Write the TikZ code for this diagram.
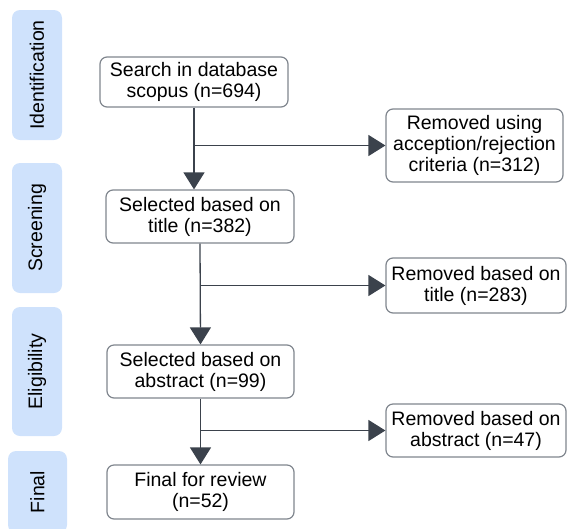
\documentclass[tikz,border=0pt]{standalone}
\usepackage{fontspec}
\setmainfont{Liberation Sans}
\usetikzlibrary{arrows.meta}
\definecolor{stageblue}{HTML}{CFE2FC}
\definecolor{linegray}{HTML}{3B424C}
\definecolor{boxgray}{HTML}{80868E}
\begin{document}
\begin{tikzpicture}[x=1pt, y=-1pt, font=\fontsize{19.5}{21}\selectfont,
	stagebox/.style={fill=stageblue, rounded corners=8pt, rotate=90, inner sep=0pt},
	flowbox/.style={draw=boxgray, line width=1.2pt, fill=white, rounded corners=7pt, align=center, inner sep=0pt},
	flowline/.style={draw=linegray, line width=1.3pt, -{Triangle[length=17pt, width=21pt]}}]
	\useasboundingbox (0,0) rectangle (567,528);
	%stages
	\foreach \name/\x/\y/\w/\h/\txt in {
		ident/37/75/50/130/Identification,
		screen/37/228/50/130/Screening,
		elig/37/371.5/50/129/Eligibility,
		final/37.5/492/59/82/Final%
	}
	\node[stagebox, minimum width=\h pt, minimum height=\w pt] (\name) at (\x,\y) {\txt};
	%main column
	\node[flowbox, minimum width=188pt, minimum height=50pt] (search) at (194,82) {Search in database\\scopus (n=694)};
	\node[flowbox, minimum width=188pt, minimum height=53pt] (title) at (200,216.5) {Selected based on\\title (n=382)};
	\node[flowbox, minimum width=187pt, minimum height=53pt] (abstract) at (200.5,371.5) {Selected based on\\abstract (n=99)};
	\node[flowbox, minimum width=187pt, minimum height=54pt] (review) at (200.5,492) {Final for review\\(n=52)};
	%removed
	\node[flowbox, minimum width=177pt, minimum height=73pt] (removeda) at (474.5,145.5) {Removed using\\acception/rejection\\criteria (n=312)};
	\node[flowbox, minimum width=180pt, minimum height=55pt] (removedb) at (476,285.5) {Removed based on\\title (n=283)};
	\node[flowbox, minimum width=180pt, minimum height=53pt] (removedc) at (476,430.5) {Removed based on\\abstract (n=47)};
	%arrows
	\draw[flowline] (search.south) -- (search.south |- title.north);
	\draw[flowline] (search.south |- removeda.west) -- (removeda.west);
	\draw[flowline] (title.south) -- (abstract.north);
	\draw[flowline] (title.south |- removedb.west) -- (removedb.west);
	\draw[flowline] (abstract.south) -- (review.north);
	\draw[flowline] (abstract.south |- removedc.west) -- (removedc.west);
\end{tikzpicture}
\end{document}
